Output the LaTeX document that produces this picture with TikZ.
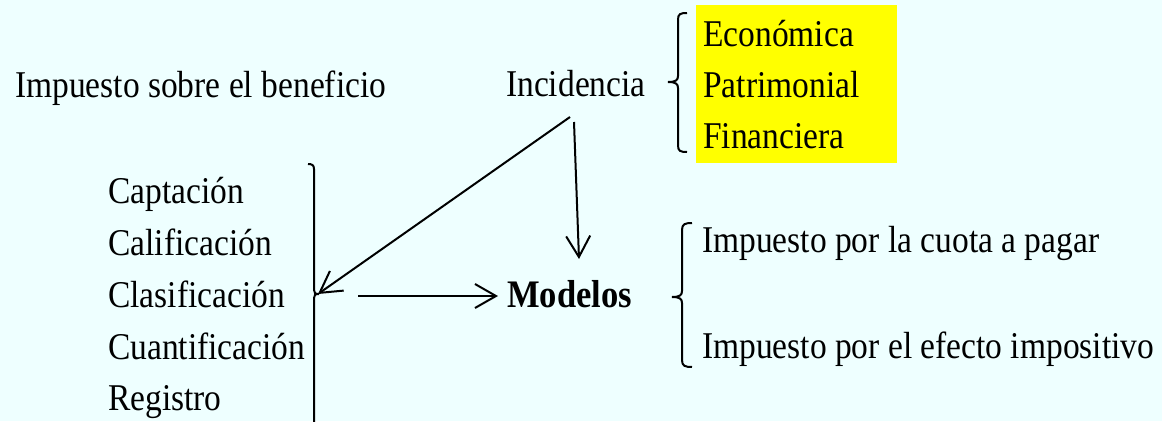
\documentclass[tikz,border=0pt]{standalone}
\usepackage{fontspec}
\setmainfont{Liberation Serif}[FakeStretch=0.886]
\usetikzlibrary{arrows.meta}
\definecolor{bgcyan}{RGB}{238,255,255}
\definecolor{hlyellow}{RGB}{255,255,0}
\tikzset{
  txt/.style={inner sep=0pt, anchor=base west, font=\fontsize{37.8}{45}\selectfont},
  conn/.style={line width=2pt, -{Straight Barb[length=21pt, width=24pt, line width=2pt]}},
  brk/.style={line width=2pt}
}
\begin{document}
\begin{tikzpicture}[x=1pt, y=-1pt]
\useasboundingbox (0,0) rectangle (1162,421);
\fill[bgcyan] (0,0) rectangle (1162,421);
% yellow box
\node[fill=hlyellow, minimum width=201pt, minimum height=158pt, inner sep=0pt, anchor=north west] (ybox) at (696,5) {};
% texts
\node[txt] (isb) at (15,97) {Impuesto sobre el beneficio};
\node[txt] (inc) at (506,96) {Incidencia};
\node[txt] (eco) at (703,46) {Económica};
\node[txt] (pat) at (703,97) {Patrimonial};
\node[txt] (fin) at (703,148) {Financiera};
\node[txt] (cap) at (108,203) {Captación};
\node[txt] (cal) at (108,255) {Calificación};
\node[txt] (cla) at (108,307) {Clasificación};
\node[txt] (cua) at (108,359) {Cuantificación};
\node[txt] (reg) at (108,410) {Registro};
\node[txt, font=\fontsize{39}{45}\selectfont\bfseries] (mod) at (507,307) {Modelos};
\node[txt] (ipc) at (702,252) {Impuesto por la cuota a pagar};
\node[txt] (ipe) at (702,358) {Impuesto por el efecto impositivo};
% brackets
\draw[brk] (687,13) .. controls (680,13) and (678,14) .. (678,20) -- (678,76)
  .. controls (678,80) and (676,82) .. (668,82)
  .. controls (676,82) and (678,84) .. (678,88) -- (678,145)
  .. controls (678,151) and (680,152) .. (687,152);
\draw[brk] (692,223) .. controls (685,223) and (682,224) .. (682,230) -- (682,291)
  .. controls (682,295) and (680,297) .. (672,297)
  .. controls (680,297) and (682,299) .. (682,303) -- (682,360)
  .. controls (682,366) and (685,367) .. (692,367);
\draw[brk] (308,164) .. controls (312,164) and (314,165) .. (314,169) -- (314,290)
  .. controls (314,293) and (315,294) .. (319,294)
  .. controls (315,294) and (314,295) .. (314,298) -- (314,425);
% connection points
\coordinate (incA) at (570,117);
\coordinate (incB) at (574,122);
\coordinate (brkT) at (318,294);
\coordinate (modT) at (579,259);
\coordinate (hS) at (358,296);
\coordinate (hE) at (498,296);
% connectors
\draw[conn] (incA) -- (brkT);
\draw[conn] (incB) -- (modT);
\draw[conn] (hS) -- (hE);
\end{tikzpicture}
\end{document}
